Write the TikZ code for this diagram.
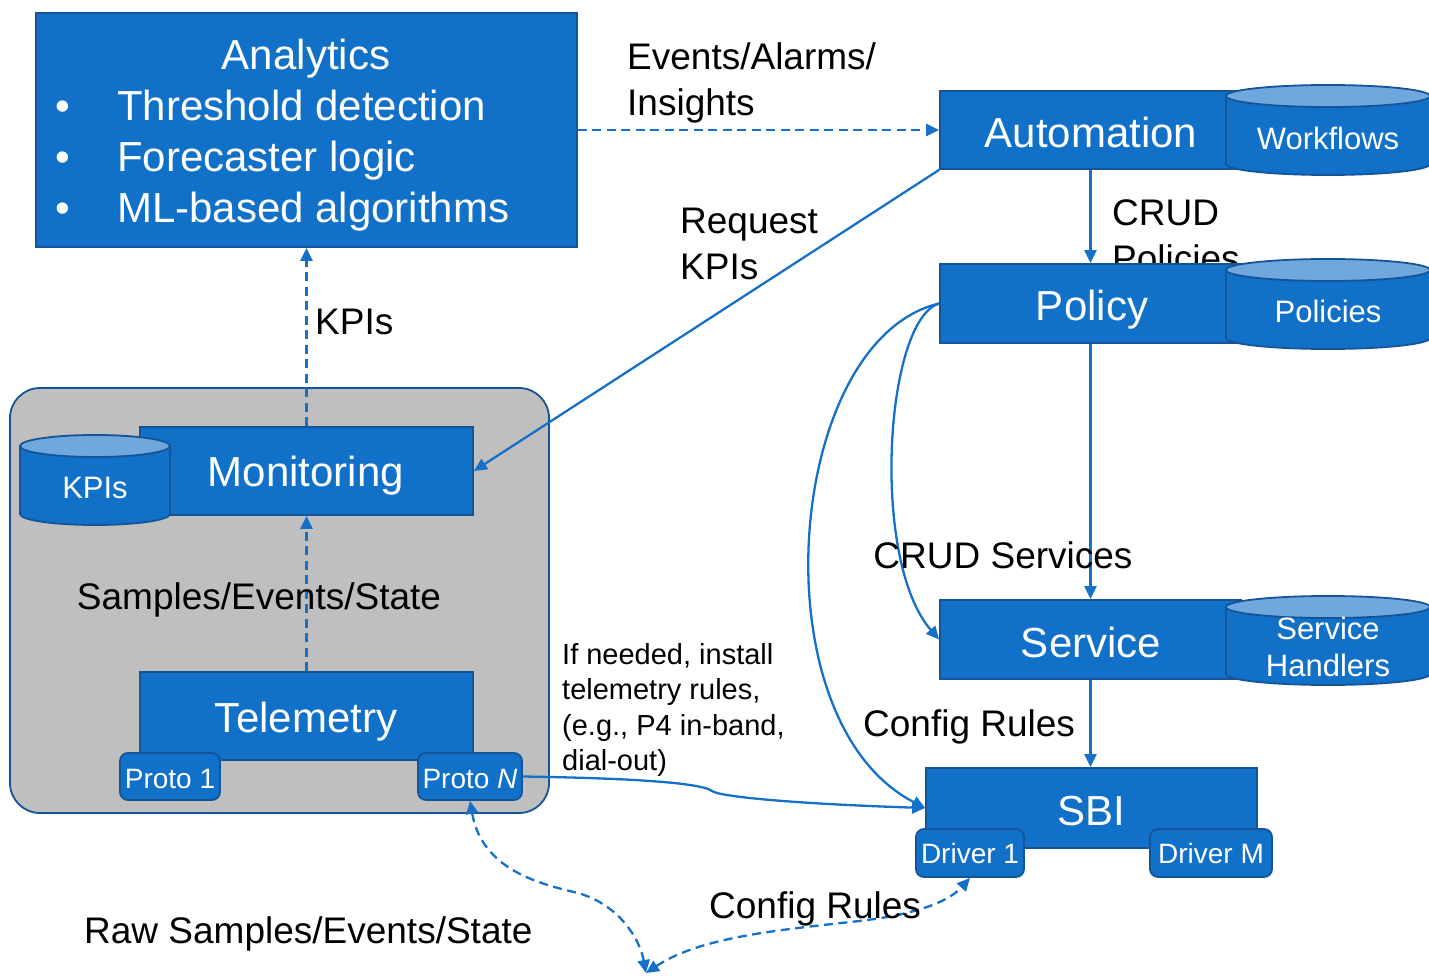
\documentclass[tikz,border=0pt]{standalone}
\usepackage{fontspec}
\setmainfont{Liberation Sans}
\usetikzlibrary{arrows.meta}

\definecolor{boxblue}{RGB}{17,112,199}
\definecolor{edgeblue}{RGB}{22,84,152}
\definecolor{lineblue}{RGB}{21,113,200}
\definecolor{toplight}{RGB}{112,168,222}
\definecolor{panelgray}{RGB}{191,191,191}

\tikzset{
  blk/.style={fill=boxblue, draw=edgeblue, line width=1.8pt, text=white,
    inner sep=0pt, font=\fontsize{42}{50}\selectfont},
  port/.style={blk, rounded corners=8pt, font=\fontsize{28}{34}\selectfont},
  panel/.style={fill=panelgray, draw=edgeblue, line width=1.8pt, rounded corners=30pt},
  wtxt/.style={text=white, inner sep=0pt, font=\fontsize{42}{50}\selectfont},
  cyltext/.style={text=white, inner sep=0pt, align=center, font=\fontsize{31}{38}\selectfont},
  lbl/.style={inner sep=0pt, align=left, font=\fontsize{37}{46}\selectfont},
  note/.style={inner sep=0pt, align=left, font=\fontsize{29}{35.3}\selectfont},
  link/.style={draw=lineblue, line width=2.3pt, -{Triangle[length=13pt,width=12pt]}},
  dlink/.style={link, dash pattern=on 9pt off 5.5pt},
  ddlink/.style={dlink, {Triangle[length=13pt,width=12pt]}-{Triangle[length=13pt,width=12pt]}}
}

% database drum: name, centre x, x radius, top y, bottom y, y radius, text y, text
\newcommand{\dbstore}[8]{%
  \path[fill=boxblue, draw=edgeblue, line width=1.8pt]
    (#2-#3,#4) -- (#2-#3,#5) arc[start angle=180, end angle=360, x radius=#3pt, y radius=#6pt]
    -- (#2+#3,#4) -- cycle;
  \path[fill=toplight, draw=edgeblue, line width=1.8pt] (#2,#4) ellipse [x radius=#3pt, y radius=#6pt];
  \node[cyltext] (#1) at (#2,#7) {#8};
}

\begin{document}
\begin{tikzpicture}[x=1pt,y=-1pt]
\useasboundingbox (0,0) rectangle (1429,976);

% label partly hidden behind the Policy block
\node[lbl, anchor=west] (crudpol) at (1112,235.5) {CRUD\\Policies};

% monitoring domain panel
\node[panel, minimum width=539pt, minimum height=425pt] (dom) at (279.5,600.5) {};

% analytics block
\node[blk, minimum width=541pt, minimum height=234pt] (analytics) at (306.5,130) {};
\node[wtxt, anchor=base] (antitle) at (306,70) {Analytics};
\node[wtxt, anchor=base] (b1) at (63,121) {•};
\node[wtxt, anchor=base] (b2) at (63,172) {•};
\node[wtxt, anchor=base] (b3) at (63,223) {•};
\node[wtxt, anchor=base west] (an1) at (117,121) {Threshold detection};
\node[wtxt, anchor=base west] (an2) at (117,172) {Forecaster logic};
\node[wtxt, anchor=base west] (an3) at (117,223) {ML-based algorithms};

% control blocks
\node[blk, minimum width=301pt, minimum height=78pt] (automation) at (1090.5,130) {};
\node[wtxt] (autotext) at (1091,132) {Automation};
\node[blk, minimum width=301pt, minimum height=79pt] (policy) at (1090.5,303.5) {};
\node[wtxt] (poltext) at (1092,310) {Policy};
\node[blk, minimum width=301pt, minimum height=79pt] (service) at (1090.5,639.5) {};
\node[wtxt] (svctext) at (1091,642) {Service};
\node[blk, minimum width=331pt, minimum height=80pt] (sbi) at (1091.5,808) {};
\node[wtxt] (sbitext) at (1091,811) {SBI};
\node[port, minimum width=108pt, minimum height=48pt] (drv1) at (970,853) {Driver 1};
\node[port, minimum width=122pt, minimum height=48pt] (drvm) at (1211,853) {Driver M};

% monitoring and telemetry blocks
\node[blk, minimum width=333pt, minimum height=88pt] (monitoring) at (306.5,471) {};
\node[wtxt] (montext) at (306,476) {Monitoring};
\node[blk, minimum width=333pt, minimum height=88pt] (telemetry) at (306.5,716) {};
\node[wtxt] (teltext) at (306,722) {Telemetry};
\node[port, minimum width=100pt, minimum height=47pt] (proto1) at (170,776.5) {};
\node[text=white, inner sep=0pt, font=\fontsize{28}{34}\selectfont] (p1text) at (170,778.5) {Proto 1};
\node[port, minimum width=104pt, minimum height=47pt] (protoN) at (470,776.5) {};
\node[text=white, inner sep=0pt, font=\fontsize{28}{34}\selectfont] (pNtext) at (470,778.5) {Proto \textit{N}};

% data stores
\dbstore{workflows}{1328}{102}{96}{164}{11}{138}{Workflows}
\dbstore{policies}{1328}{102}{270}{338}{11}{311}{Policies}
\dbstore{handlers}{1328}{102}{607}{674}{11}{647}{Service\\[-0.5pt]Handlers}
\dbstore{kpistore}{95}{75}{446}{514}{11}{488}{KPIs}

% connectors
\draw[dlink] (analytics.east |- automation.west) -- (automation.west);
\draw[link] (automation.south) -- (policy.north);
\draw[link] (automation.south west) -- (monitoring.east);
\draw[link] (policy.south) -- (service.north);
\draw[link] (service.south) -- (service.south |- sbi.north);
\draw[link] (policy.west) .. controls (885,320) and (870,560) .. (service.west);
\draw[link] (policy.west) .. controls (785,340) and (755,720) .. (sbi.west);
\draw[dlink] (monitoring.north) -- (analytics.south);
\draw[dlink] (telemetry.north) -- (monitoring.south);
\draw[link] (protoN.east) .. controls (620,778) and (700,782) .. (712,791)
  .. controls (720,797) and (800,804) .. (sbi.west);

\coordinate (raw) at (646,973);
\draw[ddlink] (protoN.south) .. controls (482,870) and (540,884) .. (578,893)
  .. controls (620,905) and (640,940) .. (raw);
\draw[ddlink] (raw) .. controls (700,937) and (780,930) .. (850,922)
  .. controls (920,915) and (950,900) .. (drv1.south);

% labels
\node[lbl, anchor=west] (evlbl) at (627,83) {Events/Alarms/\\Insights};
\node[lbl, anchor=west] (reqlbl) at (680,244) {Request\\KPIs};
\node[lbl, anchor=west] (kpilbl) at (315,322) {KPIs};
\node[lbl] (crudsvc) at (1003,555) {CRUD Services};
\node[lbl, anchor=west] (cfglbl) at (863,727) {Config Rules};
\node[lbl] (samples) at (259,600) {Samples/Events/State};
\node[note, anchor=west] (install) at (562,710) {If needed, install\\telemetry rules,\\(e.g., P4 in-band,\\dial-out)};
\node[lbl, anchor=west] (rawlbl) at (84,934) {Raw Samples/Events/State};
\node[lbl, anchor=west] (cfglbl2) at (709,909) {Config Rules};
\end{tikzpicture}
\end{document}
